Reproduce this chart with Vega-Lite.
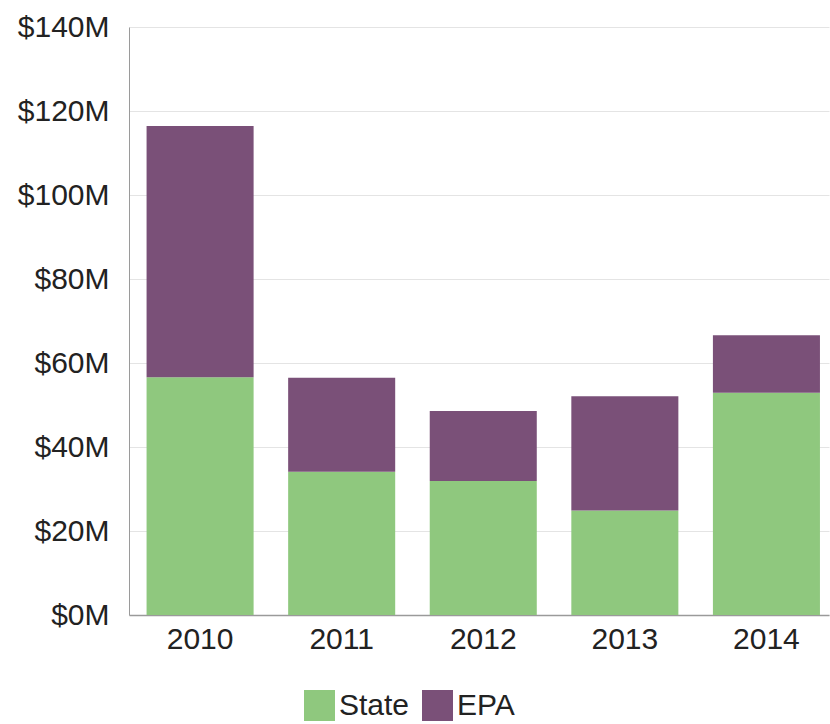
{
  "$schema": "https://vega.github.io/schema/vega-lite/v6.json",
  "width": 700,
  "height": 588,
  "autosize": "none",
  "padding": {"left": 129, "top": 27, "right": 1, "bottom": 109},
  "background": "white",
  "data": {
    "values": [
      {"year": "2010", "source": "State", "value": 56.6},
      {"year": "2010", "source": "EPA", "value": 59.8},
      {"year": "2011", "source": "State", "value": 34.1},
      {"year": "2011", "source": "EPA", "value": 22.4},
      {"year": "2012", "source": "State", "value": 31.9},
      {"year": "2012", "source": "EPA", "value": 16.7},
      {"year": "2013", "source": "State", "value": 24.9},
      {"year": "2013", "source": "EPA", "value": 27.2},
      {"year": "2014", "source": "State", "value": 52.9},
      {"year": "2014", "source": "EPA", "value": 13.7}
    ]
  },
  "mark": {"type": "bar"},
  "encoding": {
    "x": {
      "field": "year",
      "type": "ordinal",
      "scale": {"paddingInner": 0.244, "paddingOuter": 0.094, "align": 0.66},
      "axis": {
        "title": null,
        "labelAngle": 0,
        "labelFont": "Liberation Sans",
        "labelFontSize": 30,
        "labelColor": "#222222",
        "labelPadding": 9,
        "ticks": false,
        "domainColor": "#9a9a9a",
        "domainWidth": 1.5,
        "grid": false
      }
    },
    "y": {
      "field": "value",
      "type": "quantitative",
      "stack": "zero",
      "scale": {"domain": [0, 140], "nice": false},
      "axis": {
        "title": null,
        "values": [0, 20, 40, 60, 80, 100, 120, 140],
        "labelExpr": "'$' + datum.value + 'M'",
        "labelFont": "Liberation Sans",
        "labelFontSize": 30,
        "labelColor": "#222222",
        "labelPadding": 20,
        "ticks": false,
        "domainColor": "#9a9a9a",
        "grid": true,
        "gridColor": "#e4e4e4",
        "gridWidth": 1
      }
    },
    "color": {
      "field": "source",
      "type": "nominal",
      "scale": {"domain": ["State", "EPA"], "range": ["#8fc87e", "#7a5078"]},
      "legend": {
        "title": null,
        "orient": "none",
        "direction": "horizontal",
        "legendX": 175,
        "legendY": 663,
        "symbolType": "square",
        "symbolSize": 961,
        "symbolStrokeWidth": 0,
        "symbolOpacity": 1,
        "labelFont": "Liberation Sans",
        "labelFontSize": 30,
        "labelColor": "#222222",
        "labelOffset": 4,
        "columnPadding": 12
      }
    },
    "order": {"field": "source", "sort": "descending"}
  },
  "config": {"view": {"stroke": null}}
}
